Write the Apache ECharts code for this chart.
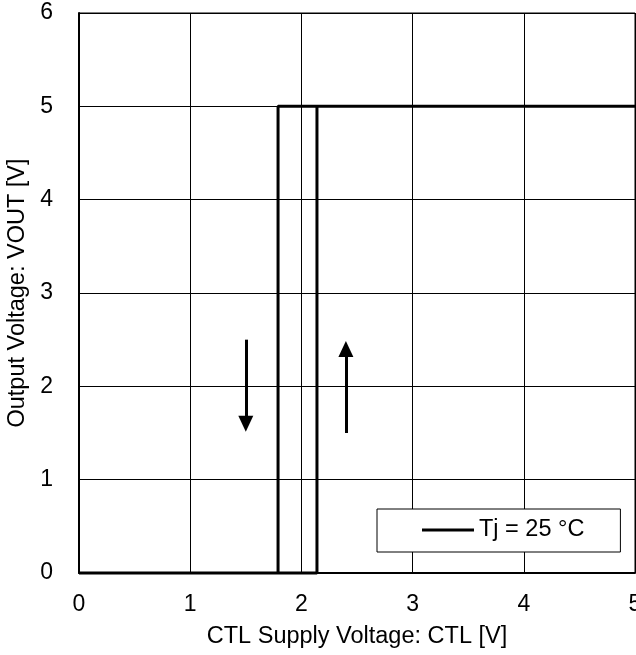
<!DOCTYPE html>
<html>
<head>
<meta charset="utf-8">
<script src="https://cdn.jsdelivr.net/npm/echarts@6/dist/echarts.min.js"></script>
<style>
  html, body { margin: 0; padding: 0; background: #fff; }
  #main { width: 636px; height: 655px; }
</style>
</head>
<body>
<div id="main"></div>
<script>
// hysteresis loop: rising edge at ~2.14 V, falling edge at ~1.79 V
let ctlVoltage = [0, 2.14, 2.14, 5, 1.79, 1.79, 0];
let outVoltage = [0, 0, 5, 5, 5, 0, 0];
let seriesName = 'Tj = 25 °C';

// arrows [x, y] start / end
let arrowDown = [[1.5, 2.5], [1.5, 1.6]];
let arrowUp = [[2.4, 1.5], [2.4, 2.4]];

let xTicks = [0, 1, 2, 3, 4, 5];
let yTicks = [0, 1, 2, 3, 4, 5, 6];

let font = 'Liberation Sans, Arial, sans-serif';
let loop = [];
for (let i = 0; i < ctlVoltage.length; i++){
    loop.push([ctlVoltage[i], outVoltage[i]]);
}

let option = {
    animation: false,
    grid: {
        left: 79, right: 1, top: 13, bottom: 82,
        outerBoundsMode: 'none',
        containLabel: false,
        show: true, borderColor: '#000', borderWidth: 1
    },
    legend: {
        data: [{name: seriesName, icon: 'rect'}],
        left: 377, top: 509,
        padding: [9, 36, 10, 45],
        itemWidth: 52, itemHeight: 3,
        backgroundColor: '#fff',
        borderColor: '#000', borderWidth: 1,
        textStyle: {fontFamily: font, fontSize: 23.5, color: '#000'}
    },
    xAxis: {
        type: 'value',
        min: xTicks[0], max: xTicks[xTicks.length - 1], interval: 1,
        name: 'CTL Supply Voltage: CTL [V]',
        nameLocation: 'middle', nameGap: 52,
        nameTextStyle: {fontFamily: font, fontSize: 23.5, color: '#000'},
        axisLine: {lineStyle: {color: '#000', width: 2}},
        axisTick: {show: false},
        axisLabel: {margin: 20, fontFamily: font, fontSize: 23, color: '#000'},
        splitLine: {lineStyle: {color: '#000', width: 1}}
    },
    yAxis: {
        type: 'value',
        min: yTicks[0], max: yTicks[yTicks.length - 1], interval: 1,
        name: 'Output Voltage: VOUT [V]',
        nameLocation: 'middle', nameGap: 48,
        nameTextStyle: {fontFamily: font, fontSize: 23.5, color: '#000'},
        axisLine: {lineStyle: {color: '#000', width: 2}},
        axisTick: {show: false},
        axisLabel: {margin: 26, fontFamily: font, fontSize: 23, color: '#000'},
        splitLine: {lineStyle: {color: '#000', width: 1}}
    },
    series: [
    {
        name: seriesName,
        type: 'line',
        data: loop,
        showSymbol: false,
        clip: false,
        color: '#000',
        lineStyle: {color: '#000', width: 3},
        markLine: {
            silent: true,
            symbol: ['none', 'triangle'],
            symbolSize: [15, 16],
            label: {show: false},
            lineStyle: {color: '#000', width: 3, type: 'solid'},
            data: [
                [{coord: arrowDown[0]}, {coord: arrowDown[1]}],
                [{coord: arrowUp[0]}, {coord: arrowUp[1]}]
            ]
        }
    }
    ]
};

let chart = echarts.init(document.getElementById('main'));
chart.setOption(option);
</script>
</body>
</html>
